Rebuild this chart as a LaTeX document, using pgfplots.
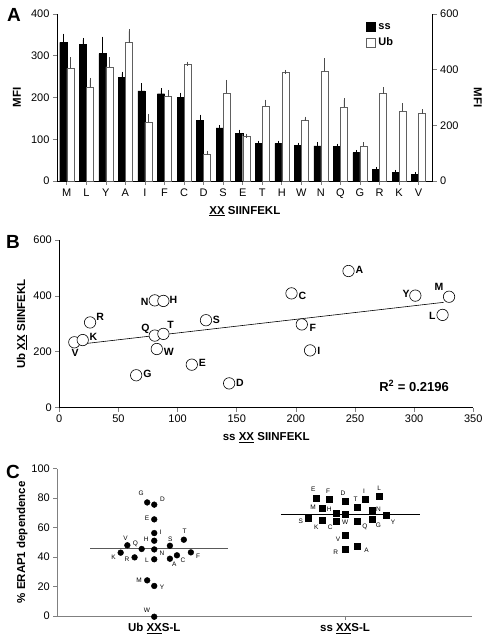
\documentclass[border=0pt]{standalone}
\usepackage{pgfplots}
\pgfplotsset{compat=1.18}
\usepackage{pgfplotstable}
\usepackage{fontspec}
\setmainfont{Liberation Sans}

\pgfplotstableread{
x y dx dy lab
12.7 234 0.7 -11 V
19.8 242 10.7 3.3 K
26 305 10 5.7 R
65 116 11.3 1 G
80.7 384 -10 -1.3 N
88 382 10 1 H
80.7 258 -9.3 6.7 Q
88 264 7.3 9 T
82.4 210 12 -2.7 W
112 154 10.7 1.3 E
124 313 10.3 0.3 S
143.6 87 10.7 0 D
196.3 409 11 -3 C
244.5 489 11 1 A
301 401 -9.3 1.7 Y
329.5 397 -10 10 M
324 332 -10.3 -1.3 L
205 298 11 -3.3 F
212 205 8.7 0 I
}\tblB

\pgfplotstableread{
x y dx dy lab
0.963 77.1 -6 8.7 G
1 75.6 8.3 5.7 D
1 65.6 -7.3 1 E
1 56.3 6.3 1.3 I
1 51.1 -8 1.7 H
1.082 47.7 0.3 6.7 S
1.155 51.8 0.7 8 T
0.859 48 -1.7 7 V
0.934 45.5 -6.3 5.3 Q
1 45.2 7.7 -3.7 N
0.824 43 -7 -4.7 K
0.897 39.8 -7.7 -2.3 R
1 38.5 -7.3 -1 L
1.082 38.9 4.3 -6 A
1.119 41.2 6 -5 C
1.192 43.2 7.3 -4.3 F
0.963 24.2 -8 0 M
1 20.4 7.7 -1.7 Y
1 -0.5 -7.3 6.7 W
}\tblCub

\pgfplotstableread{
x y dx dy lab
1.846 79.9 -2.3 9.3 E
1.916 79 -1 8 F
2 78 -2 7.7 D
2.065 74.2 -2 7.7 T
2.103 79.4 -0.7 8 I
2.178 81 0 8.3 L
1.881 72.9 -9.3 1.7 M
1.955 70.1 -7.3 3.7 H
2.14 71.5 6.7 1.7 N
2 69 0 -8.3 W
1.808 66.7 -7.7 -4 S
1.881 64.7 -6 -7 K
1.955 64.3 -6.3 -6.3 C
2.065 64.3 7.3 -5.3 Q
2.14 65.4 6.7 -5.3 G
2.213 68.1 7.3 -7 Y
2 54.8 -7 -3.7 V
2 45.2 -9.3 -3.3 R
2.065 47.5 9 -4.3 A
}\tblCss

\begin{document}
\begin{tikzpicture}
\path[use as bounding box] (0pt,0pt) rectangle (488pt,640pt);
\pgfplotsset{
  myaxis/.style={scale only axis, anchor=south west, tick align=outside,
    major tick length=4pt, tick style={line width=0.6pt},
    axis line style={line width=0.6pt},
    /pgf/number format/assume math mode=true,
    ticklabel style={font=\fontsize{11}{13}\selectfont},
    label style={font=\bfseries\fontsize{11.5}{13}\selectfont},
    clip=false},
  lblnodes/.style={nodes near coords, point meta=explicit symbolic,
    visualization depends on={\thisrow{dx} \as \dx},
    visualization depends on={\thisrow{dy} \as \dy},
    every node near coord/.style={anchor=center, xshift=\dx pt, yshift=\dy pt,
      font=#1, text=black, inner sep=0pt}},
  sqlegend/.style={legend image code/.code={\draw[##1] (0pt,-4.5pt) rectangle (9pt,4.5pt);}}
}

% ---------- Panel A ----------
\begin{axis}[myaxis, at={(57pt,459pt)}, width=375.7pt, height=167pt,
  xmin=-0.5, xmax=18.72, ymin=0, ymax=400,
  axis x line*=bottom, axis y line*=left,
  xtick={0,...,18}, xticklabels={M,L,Y,A,I,F,C,D,S,E,T,H,W,N,Q,G,R,K,V},
  ytick={0,100,200,300,400},
  ylabel={MFI}, ylabel style={at={(axis description cs:-0.107,0.5)}, anchor=center},
  xlabel={\underline{XX} SIINFEKL}, xlabel style={at={(axis description cs:0.5,-0.18)}, anchor=center}]
\addplot[ybar, bar width=0.36, bar shift=0pt, fill=black, draw=black,
  error bars/.cd, y dir=plus, y explicit,
  error bar style={black, line width=0.6pt},
  error mark options={black, mark size=2pt, line width=0.6pt}]
coordinates {
(-0.18,332) +- (0,16)
(0.82,327) +- (0,11)
(1.82,305) +- (0,36)
(2.82,248) +- (0,9)
(3.82,216) +- (0,13)
(4.82,209) +- (0,8)
(5.82,201) +- (0,6)
(6.82,145) +- (0,9)
(7.82,127) +- (0,2)
(8.82,114) +- (0,4)
(9.82,90) +- (0,2)
(10.82,90) +- (0,2)
(11.82,85) +- (0,2)
(12.82,84) +- (0,5)
(13.82,83) +- (0,2)
(14.82,68) +- (0,2)
(15.82,28) +- (0,1)
(16.82,21) +- (0,1)
(17.82,16) +- (0,1)
};
\end{axis}

\begin{axis}[myaxis, at={(57pt,459pt)}, width=375.7pt, height=167pt,
  xmin=-0.5, xmax=18.72, ymin=0, ymax=600,
  axis y line*=right, axis x line=none,
  ytick={0,200,400,600},
  ylabel={MFI}, ylabel style={at={(axis description cs:1.12,0.5)}, anchor=center, rotate=180},
  legend style={draw=none, fill=none, at={(0.822,0.958)}, anchor=north west,
    font=\bfseries\fontsize{11}{13}\selectfont, row sep=3pt, inner sep=0pt,
    nodes={inner xsep=3pt}},
  legend cell align=left]
\addlegendimage{sqlegend, fill=black, draw=black}
\addlegendentry{ss}
\addplot[ybar, bar width=0.36, bar shift=0pt, fill=white, draw=gray!75!black, sqlegend,
  error bars/.cd, y dir=plus, y explicit,
  error bar style={gray!60!black, line width=0.6pt},
  error mark options={gray!60!black, mark size=2pt, line width=0.6pt}]
coordinates {
(0.18,405) +- (0,32)
(1.18,337) +- (0,26)
(2.18,410) +- (0,27)
(3.18,497) +- (0,41)
(4.18,211) +- (0,23)
(5.18,303) +- (0,17)
(6.18,419) +- (0,3)
(7.18,96) +- (0,4)
(8.18,317) +- (0,39)
(9.18,161) +- (0,2)
(10.18,268) +- (0,17)
(11.18,392) +- (0,0)
(12.18,218) +- (0,6)
(13.18,394) +- (0,40)
(14.18,266) +- (0,25)
(15.18,126) +- (0,6)
(16.18,314) +- (0,16)
(17.18,251) +- (0,21)
(18.18,242) +- (0,9)
};
\addlegendentry{Ub}
\end{axis}

% ---------- Panel B ----------
\begin{axis}[myaxis, at={(59.3pt,232.3pt)}, width=414pt, height=167.7pt,
  xmin=0, xmax=350, ymin=0, ymax=600,
  axis x line*=bottom, axis y line*=left,
  xtick={0,50,...,350}, ytick={0,200,400,600},
  xlabel={ss \underline{XX} SIINFEKL}, xlabel style={at={(axis description cs:0.5,-0.179)}, anchor=center},
  ylabel={Ub \underline{XX} SIINFEKL}, ylabel style={at={(axis description cs:-0.09,0.5)}, anchor=center}]
\addplot[black, line width=0.6pt] coordinates {(13,225) (325,377)};
\addplot[only marks, mark=*, mark size=5.7pt, mark options={fill=white, draw=black, line width=0.6pt},
  lblnodes={\bfseries\fontsize{10.5}{12}\selectfont}]
  table[x=x, y=y, meta=lab] {\tblB};
\node[font=\bfseries\fontsize{13}{15}\selectfont] at (rel axis cs:0.857,0.13) {R\textsuperscript{2} = 0.2196};
\end{axis}

% ---------- Panel C ----------
\begin{axis}[myaxis, at={(57.3pt,24pt)}, width=414.7pt, height=147.3pt,
  xmin=0.492, xmax=2.665, ymin=0, ymax=100,
  axis x line*=bottom, axis y line*=left,
  axis line style={gray, line width=0.8pt}, tick style={gray, line width=0.8pt},
  xtick={1,2}, xticklabels={Ub \underline{XX}S-L, ss \underline{XX}S-L},
  xticklabel style={font=\bfseries\fontsize{11.5}{13}\selectfont},
  ytick={0,20,...,100},
  ylabel={\% ERAP1 dependence}, ylabel style={at={(axis description cs:-0.085,0.5)}, anchor=center}]
\addplot[gray!70!black, line width=0.8pt] coordinates {(0.665,45.7) (1.389,45.7)};
\addplot[black, line width=0.8pt] coordinates {(1.663,69) (2.393,69)};
\addplot[only marks, mark=*, mark size=2.9pt, black,
  lblnodes={\fontsize{6.5}{8}\selectfont}]
  table[x=x, y=y, meta=lab] {\tblCub};
\addplot[only marks, mark=square*, mark size=3pt, black,
  lblnodes={\fontsize{6.5}{8}\selectfont}]
  table[x=x, y=y, meta=lab] {\tblCss};
\end{axis}

\node[font=\bfseries\fontsize{19}{21}\selectfont] at (14pt,625pt) {A};
\node[font=\bfseries\fontsize{19}{21}\selectfont] at (13pt,398pt) {B};
\node[font=\bfseries\fontsize{19}{21}\selectfont] at (13pt,168pt) {C};
\end{tikzpicture}
\end{document}
